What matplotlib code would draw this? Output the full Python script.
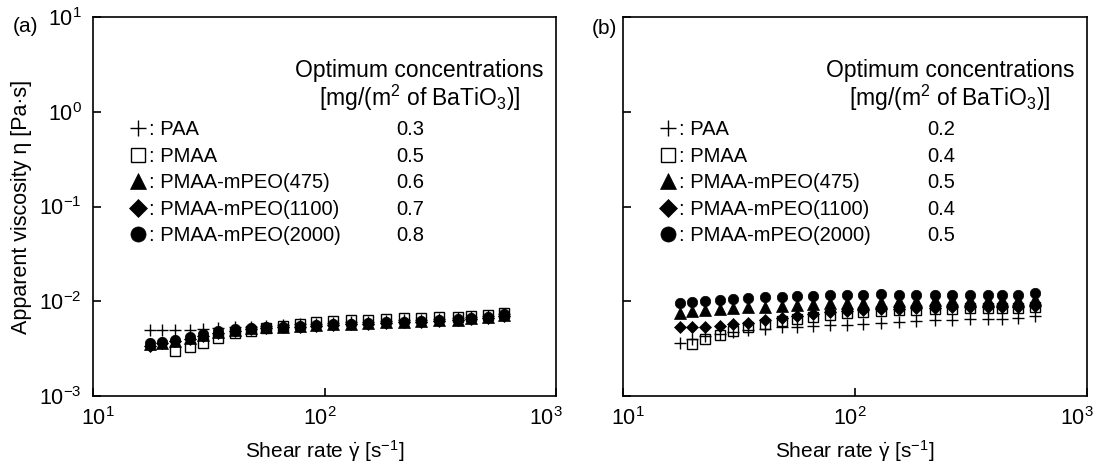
import matplotlib

matplotlib.use("Agg")
import matplotlib.pyplot as plt
from matplotlib.lines import Line2D
from matplotlib.ticker import FixedLocator, LogLocator, NullLocator, LogFormatterSciNotation
from matplotlib.transforms import ScaledTranslation
import numpy as np

# shear rate points (s^-1)
SHEAR = [17.6, 19.8, 22.6, 26.2, 29.9, 34.7, 40.9, 48.3, 56.1, 66.1, 78.0, 92.1,
         108.6, 130, 154, 184, 221, 261, 313, 376, 429, 506, 597]

NAMES = ["PAA", "PMAA", "PMAA-mPEO(475)", "PMAA-mPEO(1100)", "PMAA-mPEO(2000)"]
CONC_A = ["0.3", "0.5", "0.6", "0.7", "0.8"]
CONC_B = ["0.2", "0.4", "0.5", "0.4", "0.5"]
X_TICKS = [10, 100, 1000]

nan = np.nan
# panel (a) viscosity, mPa.s
A_PAA = [5.0, 5.0, 5.0, 5.0, 5.1, 5.2, 5.3, 5.4, 5.5, 5.6, 5.7, 5.8, 5.9, 6.0,
         6.1, 6.2, 6.3, 6.4, 6.5, 6.6, 6.8, 7.0, 7.3]
A_PMAA = [nan, nan, 3.0, 3.3, 3.6, 4.1, 4.6, 4.9, 5.2, 5.5, 5.8, 6.0, 6.2, 6.3,
          6.4, 6.5, 6.6, 6.7, 6.8, 6.9, 7.0, 7.2, 7.5]
A_475 = [3.5, 3.6, 3.8, 4.1, 4.4, 4.7, 5.0, 5.2, 5.3, 5.4, 5.5, 5.6, 5.7, 5.8,
         5.9, 6.0, 6.1, 6.2, 6.3, 6.4, 6.6, 6.8, 7.1]
A_1100 = [3.4, 3.6, 3.8, 4.0, 4.3, 4.6, 4.9, 5.1, 5.2, 5.3, 5.4, 5.5, 5.6, 5.7,
          5.8, 5.9, 6.0, 6.1, 6.2, 6.3, 6.5, 6.7, 7.0]
A_2000 = [3.6, 3.7, 3.9, 4.2, 4.5, 4.8, 5.1, 5.2, 5.3, 5.4, 5.5, 5.6, 5.7, 5.8,
          5.9, 6.0, 6.1, 6.2, 6.3, 6.5, 6.7, 6.9, 7.3]
# panel (b) viscosity, mPa.s
B_PAA = [3.6, 4.0, 4.25, 4.5, 4.75, 5.0, 5.15, 5.3, 5.35, 5.5, 5.6, 5.65, 5.75,
         5.95, 6.1, 6.2, 6.3, 6.3, 6.45, 6.45, 6.5, 6.6, 7.0]
B_PMAA = [nan, 3.5, 4.0, 4.4, 4.9, 5.3, 5.7, 6.2, 6.5, 6.9, 7.2, 7.5, 7.7, 7.9,
          8.0, 8.1, 8.2, 8.3, 8.4, 8.4, 8.5, 8.5, 8.6]
B_475 = [7.6, 7.8, 8.0, 8.2, 8.4, 8.6, 8.8, 9.0, 9.1, 9.3, 9.5, 9.6, 9.7, 9.9,
         10.0, 10.1, 10.3, 10.3, 10.4, 10.4, 10.4, 10.4, 10.5]
B_1100 = [5.3, 5.3, 5.4, 5.5, 5.7, 5.9, 6.3, 6.6, 7.0, 7.4, 7.7, 7.9, 8.1, 8.2,
          8.3, 8.4, 8.5, 8.6, 8.6, 8.6, 8.7, 8.7, 8.9]
B_2000 = [9.7, 9.9, 10.1, 10.4, 10.6, 10.8, 11.0, 11.1, 11.3, 11.4, 11.5, 11.6,
          11.7, 11.8, 11.7, 11.7, 11.7, 11.7, 11.7, 11.7, 11.7, 11.7, 12.3]

STYLES = [
    dict(marker="+", ms=8.0, mew=1.0, mfc="black", mec="black"),
    dict(marker="s", ms=6.5, mew=1.0, mfc="white", mec="black"),
    dict(marker="^", ms=8.0, mew=0.5, mfc="black", mec="black"),
    dict(marker="D", ms=6.5, mew=0.5, mfc="black", mec="black"),
    dict(marker="o", ms=7.5, mew=0.5, mfc="black", mec="black"),
]

plt.rcParams.update({
    "font.family": ["Liberation Sans", "DejaVu Sans"],
    "mathtext.fontset": "custom",
    "mathtext.rm": "Liberation Sans",
    "mathtext.it": "Liberation Sans:italic",
    "mathtext.bf": "Liberation Sans:bold",
    "font.size": 15,
    "axes.linewidth": 1.2,
})

W, H = 1095, 466
fig = plt.figure(figsize=(W / 100, H / 100), dpi=100)
fig.patch.set_facecolor("white")


def px_axes(left, right, top, bottom):
    return [left / W, 1 - bottom / H, (right - left) / W, (bottom - top) / H]


def draw_panel(ax, series, conc, show_ylabels):
    x = np.array(SHEAR)
    lines = {}
    for i in [1, 0, 2, 3, 4]:
        y = np.array(series[i]) * 1e-3
        (ln,) = ax.plot(x, y, ls="none", color="black", **STYLES[i])
        lines[i] = ln
    handles = [lines[i] for i in range(len(NAMES))]

    ax.set_xscale("log")
    ax.set_yscale("log")
    ax.set_xlim(10, 1000)
    ax.set_ylim(1e-3, 10)
    ax.xaxis.set_major_locator(FixedLocator(X_TICKS))
    ax.yaxis.set_major_locator(LogLocator(base=10))
    ax.xaxis.set_minor_locator(NullLocator())
    ax.yaxis.set_minor_locator(NullLocator())
    ax.xaxis.set_major_formatter(LogFormatterSciNotation())
    ax.tick_params(axis="both", which="major", direction="in", length=6,
                   width=1.2, labelsize=15.5, top=False, right=False)
    ax.tick_params(axis="x", pad=8)
    ax.tick_params(axis="y", pad=8, labelleft=show_ylabels)
    # the decade labels in the original are nudged: first right, others left
    for lab, dx in zip(ax.get_xticklabels(), [5, -5, -10]):
        lab.set_transform(lab.get_transform()
                          + ScaledTranslation(dx / 100, 0, fig.dpi_scale_trans))
    ax.set_xlabel(r"Shear rate $\dot{\mathrm{\gamma}}$ [s$^{-1}$]", fontsize=15, labelpad=6)

    ax.text(0.705, 0.842, "Optimum concentrations", transform=ax.transAxes,
            ha="center", va="baseline", fontsize=16.5)
    ax.text(0.705, 0.766, r"[mg/(m$^2$ of BaTiO$_3$)]", transform=ax.transAxes,
            ha="center", va="baseline", fontsize=16.5)

    leg = ax.legend(handles, [": " + n for n in NAMES], loc="upper left",
                    bbox_to_anchor=(0.08, 0.727), frameon=False, fontsize=14.5,
                    handlelength=0.8, handletextpad=0.15, borderpad=0,
                    borderaxespad=0, labelspacing=0.37, markerscale=1.45)
    ax.add_artist(leg)
    blanks = [Line2D([], [], ls="none") for _ in conc]
    ax.legend(blanks, conc, loc="upper left", bbox_to_anchor=(0.655, 0.727),
              frameon=False, fontsize=14.5, handlelength=0, handletextpad=0,
              borderpad=0, borderaxespad=0, labelspacing=0.37)


ax_a = fig.add_axes(px_axes(93, 556, 17, 396))
ax_b = fig.add_axes(px_axes(623, 1087, 17, 396))

draw_panel(ax_a, [A_PAA, A_PMAA, A_475, A_1100, A_2000], CONC_A, True)
draw_panel(ax_b, [B_PAA, B_PMAA, B_475, B_1100, B_2000], CONC_B, False)

ax_a.set_ylabel("Apparent viscosity \u03b7 [Pa\u00b7s]", fontsize=15.5, labelpad=5)

fig.text(13 / W, 1 - 27 / H, "(a)", ha="left", va="center", fontsize=15)
fig.text(592 / W, 1 - 29 / H, "(b)", ha="left", va="center", fontsize=15)

fig.savefig("out.png", dpi=100, facecolor="white")
